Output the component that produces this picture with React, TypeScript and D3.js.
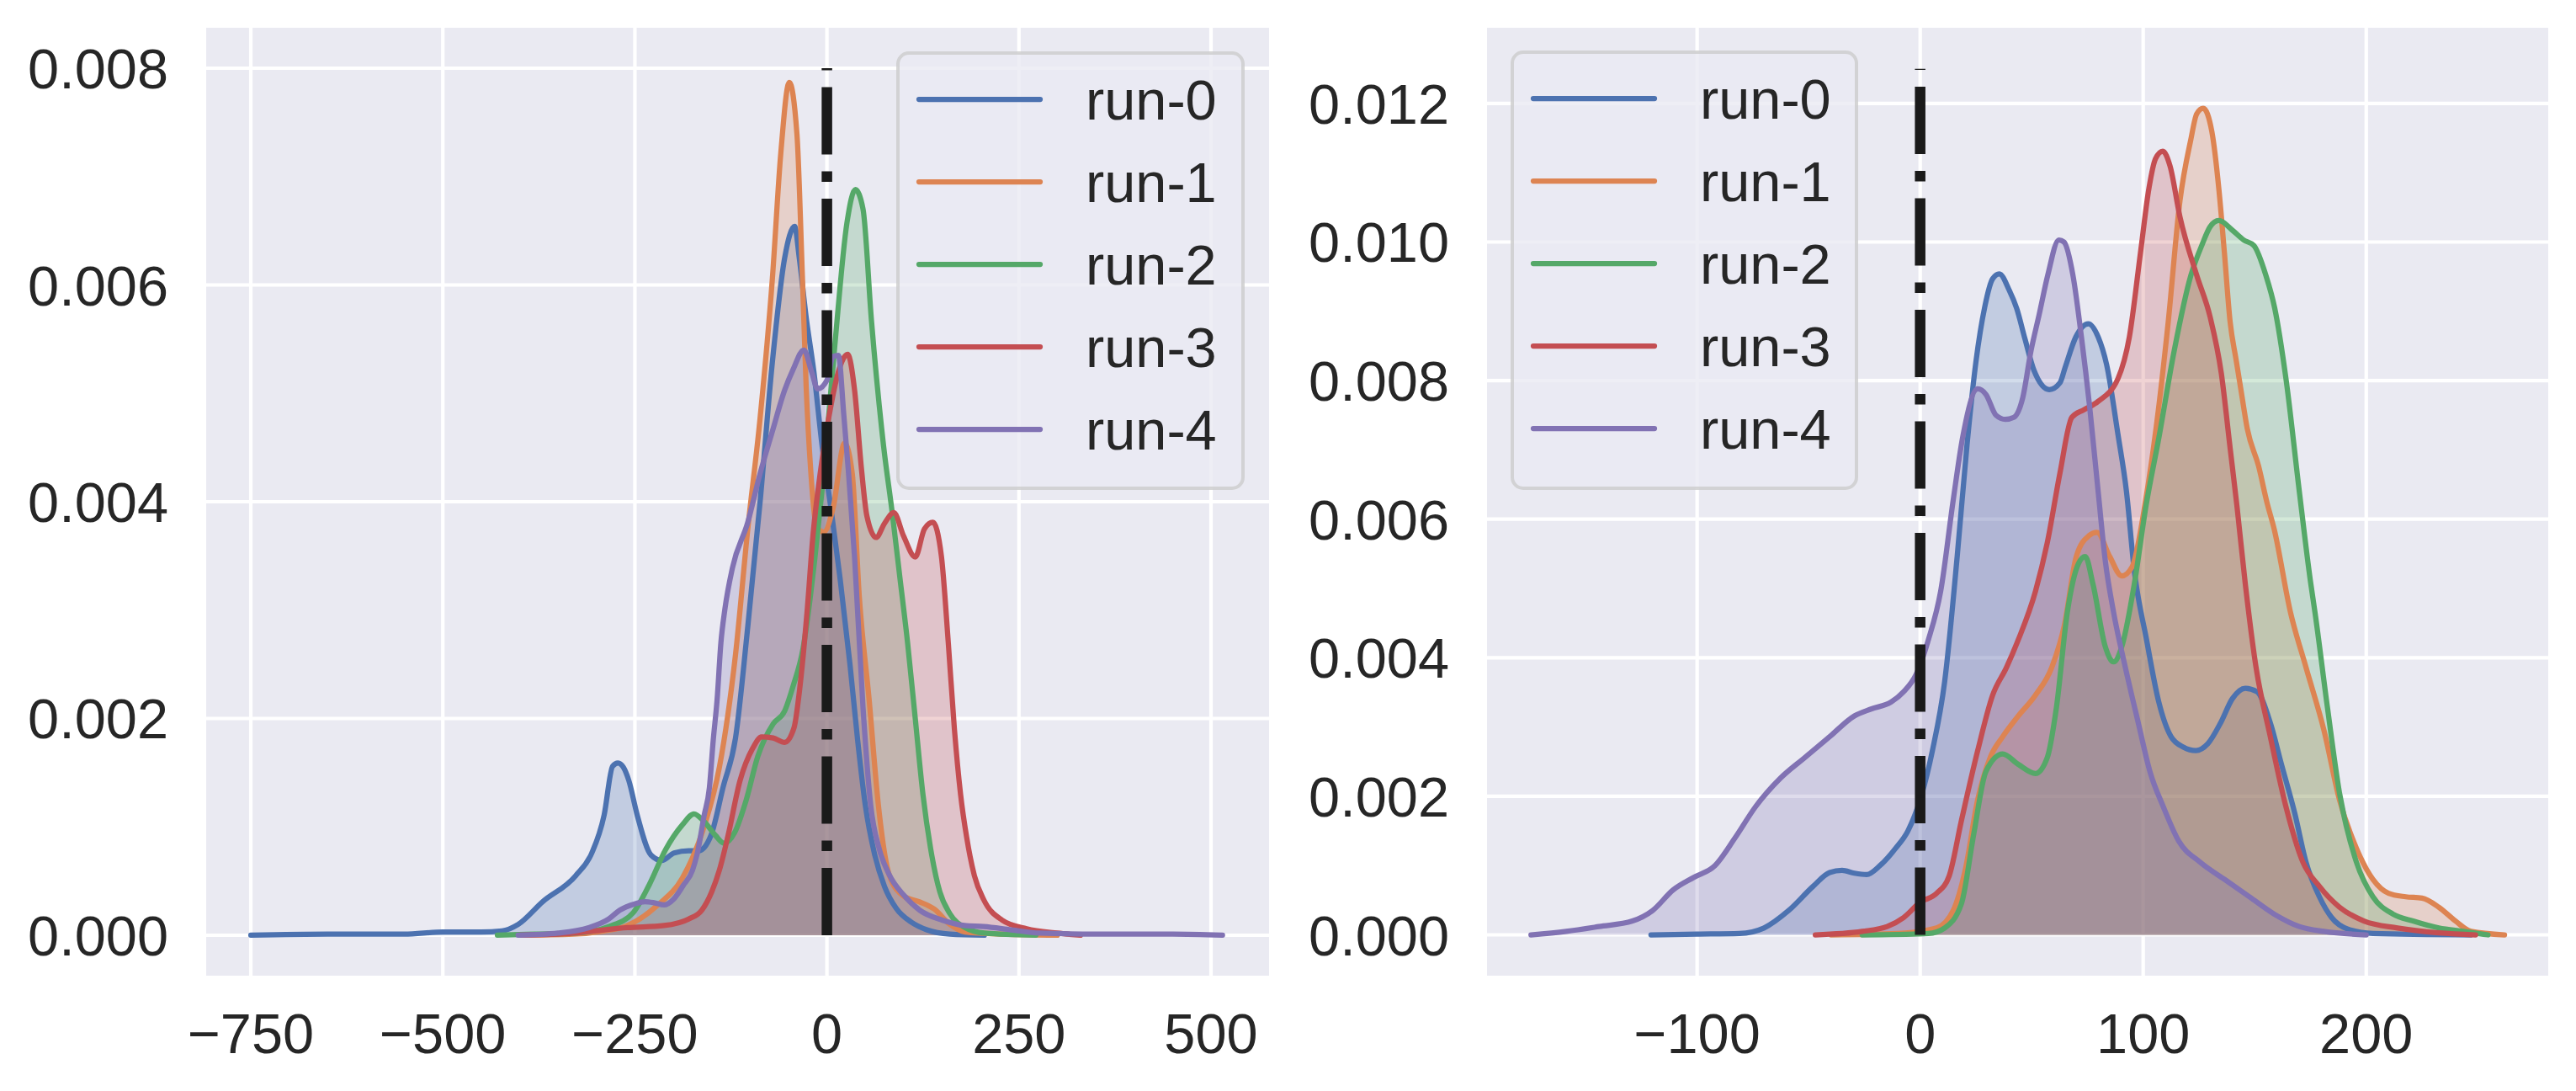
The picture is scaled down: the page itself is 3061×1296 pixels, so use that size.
import React, { useEffect } from "react";
import * as d3 from "d3";

type Pt = [number, number];

// ---------- data (left panel) ----------
const seriesNames = ["run-0", "run-1", "run-2", "run-3", "run-4"];
const seriesColors = ["#4C72B0", "#DD8452", "#55A868", "#C44E52", "#8172B3"];

const leftRun0: Pt[] = [[-750,0],[-650,0.00001],[-550,0.00001],[-500,0.00003],[-450,0.00003],[-423,0.00004],[-402,0.0001],[-370,0.00031],[-327,0.00055],[-306,0.00076],[-290,0.00111],[-279,0.00156],[-272,0.00159],[-265,0.00155],[-258,0.00143],[-247,0.00111],[-229,0.00074],[-215,0.00069],[-199,0.00076],[-180,0.00078],[-167,0.00078],[-151,0.00092],[-135,0.00137],[-119,0.00182],[-103,0.00285],[-87,0.004],[-71,0.00529],[-55,0.00625],[-42,0.00654],[-36,0.00625],[-27,0.0057],[-17,0.0052],[-6,0.0045],[6,0.0039],[17,0.0033],[30,0.0025],[40,0.0018],[50,0.0012],[62,0.00075],[75,0.00045],[90,0.00025],[110,0.00012],[130,0.00005],[160,0.00001],[205,0]];
const leftRun1: Pt[] = [[-400,0],[-330,0.00001],[-290,0.00004],[-263,0.00008],[-220,0.00028],[-188,0.00053],[-160,0.001],[-140,0.00155],[-119,0.00259],[-103,0.00375],[-87,0.00477],[-71,0.00606],[-60,0.00722],[-49,0.00787],[-39,0.00739],[-32,0.00609],[-27,0.00506],[-21,0.00428],[-14,0.00378],[-4,0.00372],[8,0.00394],[23,0.00454],[33,0.00426],[42,0.00314],[55,0.00217],[67,0.0012],[81,0.00056],[100,0.00036],[120,0.00031],[140,0.00024],[160,0.0001],[180,0.00003],[230,0.00001],[300,0]];
const leftRun2: Pt[] = [[-429,0],[-380,0.00001],[-327,0.00002],[-284,0.00008],[-252,0.00021],[-231,0.00047],[-210,0.00079],[-188,0.00102],[-173,0.00112],[-160,0.00105],[-145,0.00092],[-134,0.00085],[-120,0.00095],[-105,0.00125],[-90,0.00165],[-70,0.00195],[-55,0.00207],[-44,0.0023],[-31,0.00265],[-22,0.0031],[-16,0.00346],[-6,0.00413],[10,0.00542],[26,0.00657],[37,0.00688],[47,0.0067],[58,0.00567],[74,0.0045],[85,0.0039],[95,0.0033],[105,0.0027],[115,0.002],[125,0.0013],[135,0.0008],[147,0.0004],[160,0.0002],[180,0.00007],[205,0.00002],[272,0]];
const leftRun3: Pt[] = [[-400,0],[-330,0.00002],[-290,0.00005],[-260,0.00007],[-212,0.00009],[-180,0.00015],[-163,0.00023],[-150,0.0004],[-140,0.0006],[-129,0.00091],[-113,0.00143],[-97,0.00172],[-85,0.00183],[-70,0.00182],[-55,0.00178],[-43,0.00191],[-35,0.0023],[-26,0.00297],[-18,0.0037],[-8,0.0043],[3,0.0048],[15,0.0052],[27,0.00536],[36,0.00503],[45,0.0043],[52,0.00387],[64,0.00367],[75,0.0038],[87,0.0039],[100,0.00368],[115,0.00349],[127,0.00375],[138,0.00381],[149,0.0035],[158,0.0027],[166,0.0019],[174,0.0013],[182,0.0009],[192,0.00055],[204,0.00033],[228,0.00014],[260,0.00006],[300,0.00002],[330,0]];
const leftRun4: Pt[] = [[-402,0],[-350,0.00002],[-310,0.00007],[-284,0.00015],[-270,0.00023],[-250,0.00029],[-237,0.00031],[-225,0.0003],[-212,0.00028],[-200,0.00033],[-187,0.00046],[-175,0.0006],[-168,0.00078],[-160,0.0011],[-153,0.00136],[-148,0.0018],[-143,0.00217],[-138,0.0027],[-133,0.003],[-123,0.00339],[-103,0.00381],[-87,0.00426],[-71,0.00465],[-55,0.00503],[-44,0.00522],[-30,0.0054],[-20,0.0052],[-12,0.00504],[0,0.00512],[8,0.00534],[15,0.00535],[22,0.0048],[28,0.00428],[36,0.00349],[47,0.0021],[57,0.0012],[68,0.0008],[81,0.00056],[100,0.00037],[121,0.00023],[150,0.00014],[179,0.00009],[204,0.00008],[240,0.00005],[277,0.00002],[350,0.00001],[450,0.00001],[515,0]];

// ---------- data (right panel) ----------
const rightRun0: Pt[] = [[-120.7,0],[-100,0.00001],[-81,0.00002],[-70,0.0001],[-59,0.00035],[-48,0.0007],[-40.6,0.0009],[-35,0.00093],[-29.5,0.00089],[-24,0.00087],[-18,0.001],[-11,0.00125],[-5.5,0.0015],[0,0.00195],[5.5,0.00266],[11,0.00366],[16.6,0.00546],[21,0.00707],[25,0.00827],[29,0.00907],[32.5,0.00947],[35.5,0.00954],[40,0.0093],[43.3,0.00904],[47,0.0086],[51,0.00815],[57.9,0.00787],[62.7,0.00797],[65,0.00819],[69.8,0.00863],[75.4,0.00882],[79.8,0.00863],[83.6,0.00823],[88.7,0.00722],[92.5,0.0064],[96,0.00526],[101.5,0.00426],[107,0.00336],[112.5,0.00286],[118,0.00271],[123.6,0.00266],[129,0.00276],[134.7,0.00306],[140,0.00341],[145.8,0.00356],[151,0.00351],[157,0.00306],[162,0.00246],[168,0.00175],[173,0.00105],[179,0.00055],[184.5,0.00025],[192,0.00008],[203,0.00002],[247,0]];
const rightRun1: Pt[] = [[-40,0],[-10,0.00002],[7.4,0.0001],[14.8,0.00035],[20.3,0.00095],[25.8,0.00195],[31.4,0.00256],[37,0.00286],[44,0.00316],[51.7,0.00346],[59,0.00386],[64.6,0.00446],[70,0.00546],[75.6,0.00576],[79.3,0.00581],[85,0.00546],[90.4,0.00518],[95,0.00531],[101.2,0.00629],[106.2,0.00742],[111.2,0.00884],[116.5,0.0106],[121.3,0.01147],[124,0.01185],[126.9,0.01193],[130.8,0.01159],[134,0.01074],[136.4,0.00985],[139,0.00884],[141.6,0.00831],[144,0.00783],[146.7,0.0073],[151.7,0.00677],[155.5,0.00624],[158.7,0.00586],[166,0.00466],[173,0.00386],[181,0.00296],[188,0.00195],[195.6,0.00125],[203,0.0008],[210,0.0006],[217.7,0.00055],[225,0.00053],[232.5,0.0004],[240,0.0002],[247,0.00005],[262,0]];
const rightRun2: Pt[] = [[-26,0],[3.7,0.00002],[11,0.0001],[18.5,0.00045],[24,0.00145],[29.5,0.00236],[37,0.00261],[44,0.00246],[51.7,0.00233],[57,0.00256],[61,0.00326],[66,0.00466],[71,0.00536],[74,0.00546],[77.5,0.00506],[83,0.00416],[86.7,0.00394],[90.4,0.00416],[96,0.00506],[101.3,0.0062],[107,0.00717],[113.9,0.00843],[121.4,0.00952],[126.5,0.00997],[130,0.01022],[133.9,0.01031],[140,0.01017],[145,0.01003],[149.6,0.00995],[155,0.00952],[159,0.00904],[164,0.00803],[170,0.0064],[175,0.0051],[177,0.00466],[182.7,0.00326],[188,0.00205],[195.6,0.00105],[203,0.00055],[212,0.0003],[221,0.0002],[232.5,0.0001],[243.5,0.00005],[254.6,0]];
const rightRun3: Pt[] = [[-47,0],[-26,0.00005],[-14.8,0.00012],[-7.4,0.00025],[0,0.00047],[7.4,0.0006],[13,0.00085],[18.5,0.00165],[25.8,0.00266],[32.5,0.00346],[38.7,0.00386],[44,0.00426],[51.7,0.00496],[57,0.00566],[62.7,0.00667],[68,0.00747],[73.5,0.00758],[79.8,0.0077],[88.7,0.00803],[93.8,0.00863],[98.8,0.00985],[102.6,0.01078],[105.5,0.0112],[108.8,0.01131],[112,0.0111],[116.5,0.01036],[124,0.00952],[130,0.00892],[135,0.00811],[139,0.00702],[142,0.0062],[145.8,0.00506],[150.6,0.00386],[157,0.00286],[164,0.00185],[171.6,0.00105],[179,0.0007],[188,0.0004],[199,0.0002],[214,0.0001],[232.5,0.00003],[249,0]];
const rightRun4: Pt[] = [[-174.5,0],[-158.7,0.00005],[-144,0.00012],[-129,0.0002],[-120,0.00035],[-110.7,0.00065],[-101.5,0.00083],[-92,0.001],[-83,0.0014],[-73.8,0.00185],[-62.7,0.00226],[-51.7,0.00256],[-40.6,0.00286],[-29.5,0.00316],[-22,0.00326],[-13,0.00336],[-7.4,0.00351],[-1.8,0.00376],[3.7,0.00426],[9.2,0.00496],[14.8,0.00627],[19,0.00717],[25.8,0.00788],[29.5,0.0078],[34,0.0075],[38.2,0.00744],[42,0.00747],[45.9,0.00774],[49.7,0.00843],[53.4,0.00896],[57.2,0.00952],[62.2,0.01003],[64.5,0.01],[68.5,0.00952],[72.3,0.00863],[76,0.00762],[79.8,0.0064],[83,0.0054],[86.7,0.00466],[92,0.00386],[97.8,0.00306],[103,0.00236],[109,0.00185],[116,0.00135],[125.5,0.00105],[136.5,0.0008],[147.6,0.00055],[158.7,0.0003],[170,0.00012],[181,0.00005],[200,0]];

const leftXTicks = [-750, -500, -250, 0, 250, 500];
const leftYTicks = [0, 0.002, 0.004, 0.006, 0.008];
const rightXTicks = [-100, 0, 100, 200];
const rightYTicks = [0, 0.002, 0.004, 0.006, 0.008, 0.01, 0.012];
const leftVLineTop = 0.008;
const rightVLineTop = 0.0125;

// ---------- layout ----------
const W = 3061;
const H = 1296;
const FONT = "'Liberation Sans', Arial, Helvetica, sans-serif";
const FS = 66.7;
const TEXT = "#262626";

interface PanelProps {
  left: number; right: number; top: number; bottom: number;
  xDomain: [number, number]; yDomain: [number, number];
  xTicks: number[]; yTicks: number[];
  series: Pt[][]; vTop: number;
  legendX: number; legendY: number; legendW: number; legendH: number;
}

const fmtY = (v: number) => v.toFixed(3);
const fmtX = (v: number) => (v < 0 ? "\u2212" + Math.abs(v) : String(v));

function Panel(p: PanelProps) {
  const x = d3.scaleLinear().domain(p.xDomain).range([p.left, p.right]);
  const y = d3.scaleLinear().domain(p.yDomain).range([p.bottom, p.top]);
  const line = d3.line<Pt>().x(d => x(d[0])).y(d => y(d[1])).curve(d3.curveMonotoneX);
  const area = d3.area<Pt>().x(d => x(d[0])).y0(y(0)).y1(d => y(d[1])).curve(d3.curveMonotoneX);
  const x0 = x(0);
  return (
    <g>
      <rect x={p.left} y={p.top} width={p.right - p.left} height={p.bottom - p.top} fill="#EAEAF2" />
      {p.xTicks.map(t => (
        <line key={"gx" + t} x1={x(t)} x2={x(t)} y1={p.top} y2={p.bottom} stroke="#fff" strokeWidth={4.2} />
      ))}
      {p.yTicks.map(t => (
        <line key={"gy" + t} x1={p.left} x2={p.right} y1={y(t)} y2={y(t)} stroke="#fff" strokeWidth={4.2} />
      ))}
      {p.series.map((s, i) => (
        <path key={"a" + i} d={area(s) || ""} fill={seriesColors[i]} fillOpacity={0.25} />
      ))}
      {p.series.map((s, i) => (
        <path key={"l" + i} d={line(s) || ""} fill="none" stroke={seriesColors[i]} strokeWidth={6.25}
          strokeLinejoin="round" strokeLinecap="round" />
      ))}
      <line x1={x0} x2={x0} y1={y(0)} y2={y(p.vTop)} stroke="#1a1a1a" strokeWidth={12.5}
        strokeDasharray="80 20 12.5 20" />
      {p.xTicks.map(t => (
        <text key={"tx" + t} x={x(t)} y={1251} textAnchor="middle" fontFamily={FONT} fontSize={FS} fill={TEXT}>
          {fmtX(t)}
        </text>
      ))}
      {p.yTicks.map(t => (
        <text key={"ty" + t} x={p.left - 45} y={y(t) + 24} textAnchor="end" fontFamily={FONT} fontSize={FS} fill={TEXT}>
          {fmtY(t)}
        </text>
      ))}
      <g>
        <rect x={p.legendX} y={p.legendY} width={p.legendW} height={p.legendH} rx={13} ry={13}
          fill="#EAEAF2" fillOpacity={0.8} stroke="#cccccc" strokeOpacity={0.8} strokeWidth={4} />
        {seriesNames.map((n, i) => {
          const ly = p.legendY + 55 + i * 98;
          const lx = p.legendX + 25;
          return (
            <g key={n}>
              <line x1={lx} x2={lx + 144} y1={ly} y2={ly} stroke={seriesColors[i]} strokeWidth={6.25} strokeLinecap="round" />
              <text x={lx + 198} y={ly + 24} fontFamily={FONT} fontSize={FS} fill={TEXT}>{n}</text>
            </g>
          );
        })}
      </g>
    </g>
  );
}

export default function App() {
  useEffect(() => {
    document.body.style.margin = "0";
    document.body.style.background = "#fff";
  }, []);
  return (
    <svg width={W} height={H} viewBox={`0 0 ${W} ${H}`} style={{ display: "block", background: "#fff" }}>
      <Panel left={245} right={1508} top={33} bottom={1159}
        xDomain={[-808.1, 575.6]} yDomain={[-0.000373, 0.008373]}
        xTicks={leftXTicks} yTicks={leftYTicks}
        series={[leftRun0, leftRun1, leftRun2, leftRun3, leftRun4]} vTop={leftVLineTop}
        legendX={1067} legendY={63} legendW={410} legendH={517} />
      <Panel left={1767} right={3028} top={33} bottom={1159}
        xDomain={[-194.2, 281.6]} yDomain={[-0.000589, 0.013092]}
        xTicks={rightXTicks} yTicks={rightYTicks}
        series={[rightRun0, rightRun1, rightRun2, rightRun3, rightRun4]} vTop={rightVLineTop}
        legendX={1797} legendY={62} legendW={409} legendH={518} />
    </svg>
  );
}
